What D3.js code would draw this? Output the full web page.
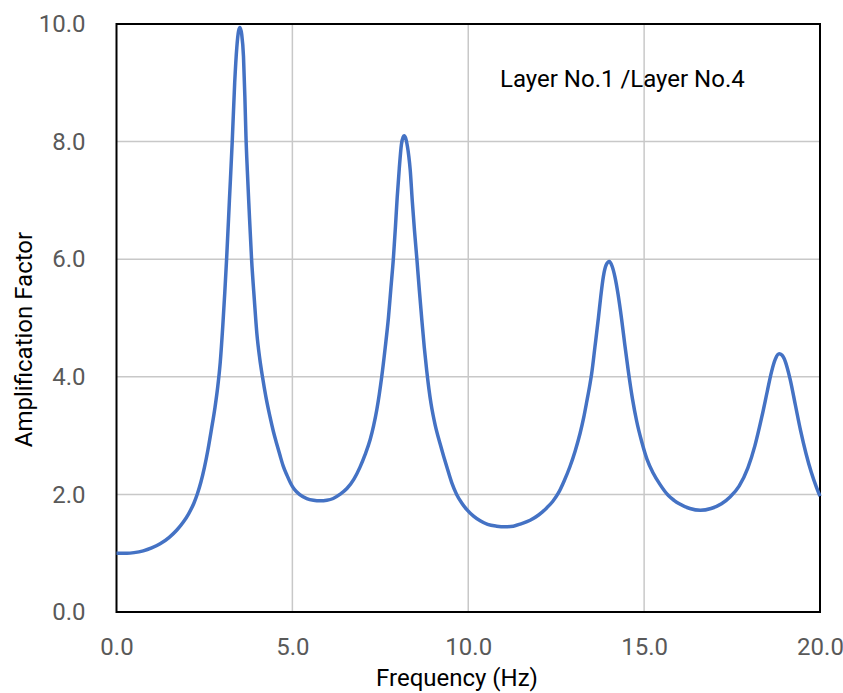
<!DOCTYPE html>
<html>
<head>
<meta charset="utf-8">
<script src="https://cdn.jsdelivr.net/npm/d3@7"></script>
<style>
  body { margin: 0; background: #fff; }
  svg text { font-family: Roboto, "Liberation Sans", sans-serif; }
  .tick-label { fill: #595959; font-size: 24px; }
  .title { fill: #000; font-size: 24px; }
</style>
</head>
<body>
<div id="chart"></div>
<script>
// values
const freq = [0.0, 0.3, 0.5, 0.76, 1.0, 1.24, 1.5, 1.71, 1.9, 2.05, 2.2, 2.3, 2.4, 2.5, 2.6, 2.7, 2.8, 2.88,
  2.95, 3.02, 3.08, 3.13, 3.21, 3.29, 3.36, 3.42, 3.47, 3.51, 3.56, 3.61, 3.65, 3.68, 3.72, 3.77, 3.84,
  3.92, 3.99, 4.07, 4.15, 4.25, 4.36, 4.46, 4.55, 4.65, 4.74, 4.85, 4.95, 5.05, 5.2, 5.41, 5.6, 5.79,
  5.98, 6.16, 6.35, 6.55, 6.75, 6.92, 7.07, 7.21, 7.31, 7.40, 7.47, 7.54, 7.64, 7.73, 7.80, 7.87, 7.93,
  7.98, 8.04, 8.10, 8.15, 8.18, 8.22, 8.27, 8.31, 8.35, 8.41, 8.47, 8.54, 8.61, 8.68, 8.75, 8.82, 8.88,
  8.94, 9.0, 9.06, 9.20, 9.30, 9.39, 9.53, 9.67, 9.82, 9.96, 10.15, 10.34, 10.55, 10.81, 11.05, 11.28,
  11.5, 11.76, 12.0, 12.23, 12.4, 12.56, 12.72, 12.89, 13.04, 13.18, 13.28, 13.37, 13.45, 13.51, 13.60,
  13.70, 13.77, 13.84, 13.92, 14.01, 14.09, 14.17, 14.26, 14.36, 14.45, 14.55, 14.67, 14.79, 14.93,
  15.08, 15.26, 15.45, 15.69, 15.85, 16.0, 16.3, 16.6, 16.9, 17.2, 17.45, 17.7, 17.95, 18.15, 18.35,
  18.5, 18.62, 18.73, 18.84, 18.92, 18.98, 19.07, 19.15, 19.3, 19.45, 19.6, 19.75, 19.9, 20.0];
const amp = [1.00, 1.00, 1.01, 1.04, 1.09, 1.16, 1.27, 1.39, 1.53, 1.67, 1.85, 2.01, 2.21, 2.46, 2.76, 3.11, 3.48, 3.84,
  4.25, 4.85, 5.45, 6.0, 7.0, 8.0, 9.0, 9.6, 9.88, 9.94, 9.82, 9.45, 8.75, 8.1, 7.5, 6.85, 6.0,
  5.3, 4.74, 4.32, 4.0, 3.65, 3.33, 3.07, 2.87, 2.66, 2.48, 2.32, 2.19, 2.09, 2.0, 1.93, 1.90, 1.89,
  1.90, 1.93, 2.0, 2.10, 2.26, 2.46, 2.68, 2.93, 3.17, 3.44, 3.7, 4.0, 4.5, 5.0, 5.5, 6.0, 6.55,
  7.05, 7.55, 7.95, 8.08, 8.10, 8.06, 7.92, 7.75, 7.52, 6.98, 6.5, 6.0, 5.47, 4.97, 4.5, 4.1, 3.8,
  3.55, 3.35, 3.18, 2.86, 2.65, 2.47, 2.2, 2.0, 1.85, 1.74, 1.63, 1.55, 1.49, 1.46, 1.45, 1.46,
  1.5, 1.56, 1.65, 1.77, 1.88, 2.02, 2.22, 2.47, 2.74, 3.04, 3.3, 3.58, 3.84, 4.06, 4.5,
  5.0, 5.38, 5.70, 5.90, 5.96, 5.88, 5.70, 5.4, 4.98, 4.55, 4.1, 3.62, 3.24, 2.9,
  2.60, 2.36, 2.17, 1.98, 1.9, 1.84, 1.76, 1.73, 1.76, 1.84, 1.96, 2.14, 2.45, 2.83, 3.33,
  3.75, 4.08, 4.3, 4.39, 4.37, 4.31, 4.15, 3.96, 3.52, 3.08, 2.7, 2.38, 2.12, 1.97];
const xTicks = [0, 5, 10, 15, 20];
const yTicks = [0, 2, 4, 6, 8, 10];

const w = 843;
const h = 693;
const plotLeft = 116.5, plotRight = 820, plotTop = 24, plotBottom = 612;

const data = freq.map((f, i) => [f, amp[i]]);

const xScale = d3.scaleLinear().domain([0, 20]).range([plotLeft, plotRight]);
const yScale = d3.scaleLinear().domain([0, 10]).range([plotBottom, plotTop]);

const svg = d3.select('#chart')
              .append('svg')
              .attr('width', w)
              .attr('height', h);

// grid
svg.append('g')
   .selectAll('line')
   .data(xTicks.slice(1, -1))
   .enter()
   .append('line')
   .attr('x1', d => xScale(d)).attr('x2', d => xScale(d))
   .attr('y1', plotTop).attr('y2', plotBottom)
   .attr('stroke', '#c8c8c8').attr('stroke-width', 1.5);

svg.append('g')
   .selectAll('line')
   .data(yTicks.slice(1, -1))
   .enter()
   .append('line')
   .attr('x1', plotLeft).attr('x2', plotRight)
   .attr('y1', d => yScale(d)).attr('y2', d => yScale(d))
   .attr('stroke', '#c8c8c8').attr('stroke-width', 1.5);

// frame
svg.append('rect')
   .attr('x', plotLeft).attr('y', plotTop)
   .attr('width', plotRight - plotLeft).attr('height', plotBottom - plotTop)
   .attr('fill', 'none').attr('stroke', '#000').attr('stroke-width', 2);

// axes (labels only)
const xAxis = d3.axisBottom(xScale).tickValues(xTicks).tickFormat(d3.format('.1f')).tickSize(0).tickPadding(26);
const yAxis = d3.axisLeft(yScale).tickValues(yTicks).tickFormat(d3.format('.1f')).tickSize(0).tickPadding(31);

svg.append('g')
   .attr('transform', `translate(0, ${plotBottom})`)
   .call(xAxis)
   .call(g => g.select('.domain').remove())
   .selectAll('text').attr('class', 'tick-label');

svg.append('g')
   .attr('transform', `translate(${plotLeft}, 0)`)
   .call(yAxis)
   .call(g => g.select('.domain').remove())
   .selectAll('text').attr('class', 'tick-label');

svg.selectAll('.tick-label').each(function() {
  this.parentNode.parentNode.removeAttribute('font-size');
  this.parentNode.parentNode.removeAttribute('font-family');
});

// curve
const line = d3.line()
               .x(d => xScale(d[0]))
               .y(d => yScale(d[1]))
               .curve(d3.curveMonotoneX);

svg.append('path')
   .datum(data)
   .attr('d', line)
   .attr('fill', 'none')
   .attr('stroke', '#4472C4')
   .attr('stroke-width', 3.5)
   .attr('stroke-linejoin', 'round');

// titles
svg.append('text')
   .attr('class', 'title')
   .attr('x', 457).attr('y', 686)
   .attr('text-anchor', 'middle')
   .text('Frequency (Hz)');

svg.append('text')
   .attr('class', 'title')
   .attr('transform', 'translate(32, 339.5) rotate(-90)')
   .attr('text-anchor', 'middle')
   .text('Amplification Factor');

svg.append('text')
   .attr('class', 'title')
   .attr('x', 500).attr('y', 86.5)
   .text('Layer No.1 /Layer No.4');
</script>
</body>
</html>
